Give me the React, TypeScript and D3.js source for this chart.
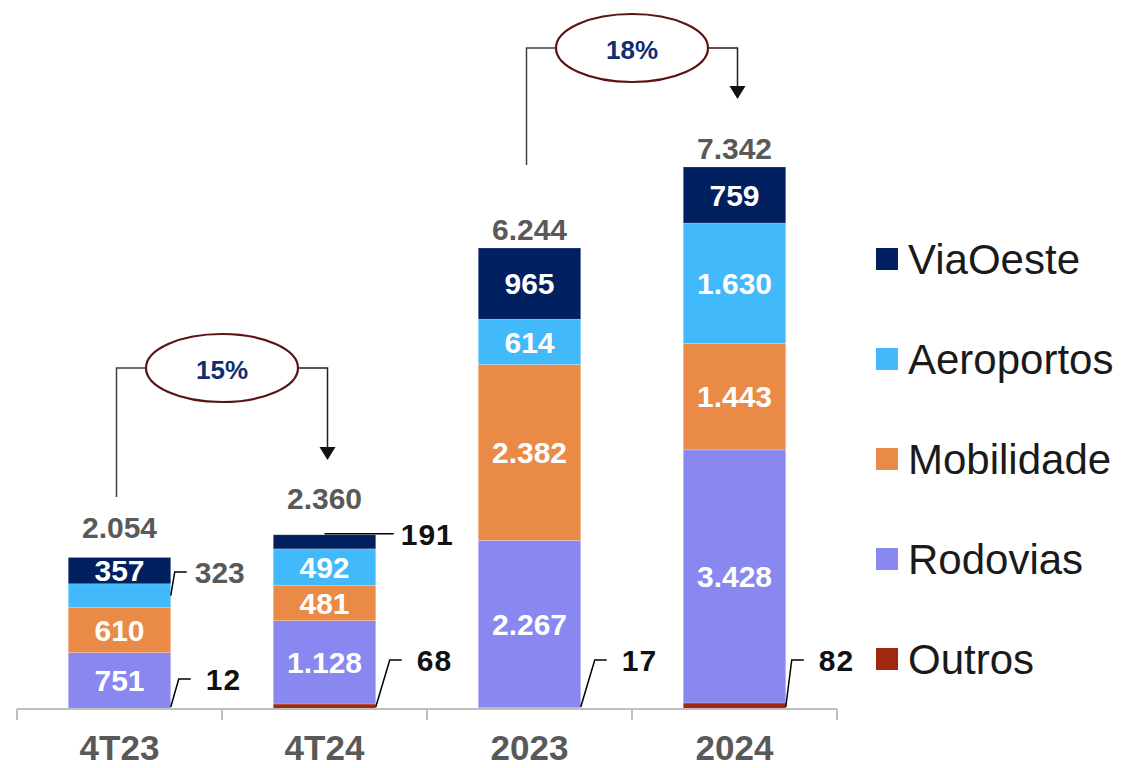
import React from 'react';
import * as d3 from 'd3';

const categories = ['4T23', '4T24', '2023', '2024'];
const seriesKeys = ['Outros', 'Rodovias', 'Mobilidade', 'Aeroportos', 'ViaOeste'];
const outros = [12, 68, 17, 82];
const rodovias = [751, 1128, 2267, 3428];
const mobilidade = [610, 481, 2382, 1443];
const aeroportos = [323, 492, 614, 1630];
const viaOeste = [357, 191, 965, 759];
const totals = [2054, 2360, 6244, 7342];
const growthLabels = ['15%', '18%'];
const growthPairs: [string, string][] = [['4T23', '4T24'], ['2023', '2024']];

const colors: Record<string, string> = {
  ViaOeste: '#002060',
  Aeroportos: '#42B9FA',
  Mobilidade: '#E98A46',
  Rodovias: '#8988F1',
  Outros: '#A02811',
};
const legendOrder = ['ViaOeste', 'Aeroportos', 'Mobilidade', 'Rodovias', 'Outros'];

// labels placed outside the bars with a leader line
const outside: { cat: string; key: string; labelY: number; kind: 'elbow' | 'flat'; color: string }[] = [
  { cat: '4T23', key: 'Outros', labelY: 679, kind: 'elbow', color: '#111' },
  { cat: '4T23', key: 'Aeroportos', labelY: 572, kind: 'elbow', color: '#595959' },
  { cat: '4T24', key: 'Outros', labelY: 660, kind: 'elbow', color: '#111' },
  { cat: '4T24', key: 'ViaOeste', labelY: 534, kind: 'flat', color: '#111' },
  { cat: '2023', key: 'Outros', labelY: 660, kind: 'elbow', color: '#111' },
  { cat: '2024', key: 'Outros', labelY: 660, kind: 'elbow', color: '#111' },
];
const totalOffsets = [30, 37, 19, 19];
const annot = [
  { cy: 368, leftBottom: 497, arrowTip: 460 },
  { cy: 48, leftBottom: 165, arrowTip: 99 },
];

const locale = d3.formatLocale({ decimal: ',', thousands: '.', grouping: [3], currency: ['R$', ''] });
const fmt = locale.format(',d');

const FONT = '"Liberation Sans", Arial, sans-serif';

export default function App() {
  const width = 1121;
  const height = 768;
  const baseY = 709;
  const x = d3.scaleBand<string>().domain(categories).range([17, 837]).paddingInner(0.5).paddingOuter(0.25);
  const y = d3.scaleLinear().domain([0, d3.max(totals) as number]).range([baseY, 167]);

  const rows = categories.map((c, i) => ({
    cat: c,
    Outros: outros[i],
    Rodovias: rodovias[i],
    Mobilidade: mobilidade[i],
    Aeroportos: aeroportos[i],
    ViaOeste: viaOeste[i],
  }));
  const stacked = d3.stack<any>().keys(seriesKeys)(rows);
  const bw = x.bandwidth();
  const step = x.step();
  const isOutside = (cat: string, key: string) => outside.some((o) => o.cat === cat && o.key === key);

  const tickXs = d3.range(categories.length + 1).map((i) => 17 + i * step);

  return (
    <svg width={width} height={height} style={{ position: 'absolute', left: 0, top: 0, background: '#fff' }}>
      {/* bars */}
      {stacked.map((layer) => (
        <g key={layer.key}>
          {layer.map((d, i) => (
            <rect
              key={i}
              x={x(categories[i])}
              y={y(d[1])}
              width={bw}
              height={Math.max(0, y(d[0]) - y(d[1]))}
              fill={colors[layer.key]}
              stroke="#ffffff"
              strokeOpacity={0.35}
              strokeWidth={0.6}
            />
          ))}
        </g>
      ))}
      {/* inside labels */}
      {stacked.map((layer) =>
        layer.map((d, i) => {
          const cat = categories[i];
          if (isOutside(cat, layer.key)) return null;
          return (
            <text
              key={layer.key + i}
              x={(x(cat) as number) + bw / 2}
              y={(y(d[0]) + y(d[1])) / 2}
              dy="0.36em"
              textAnchor="middle"
              fill="#fff"
              fontFamily={FONT}
              fontWeight="bold"
              fontSize={30}
            >
              {fmt(d[1] - d[0])}
            </text>
          );
        })
      )}
      {/* outside labels with leaders */}
      {outside.map((o, j) => {
        const i = categories.indexOf(o.cat);
        const layer = stacked.find((l) => l.key === o.key)!;
        const d = layer[i];
        const x0 = x(o.cat) as number;
        const right = x0 + bw;
        let path: string;
        let tx: number;
        if (o.kind === 'flat') {
          const ly = y(d[1]) - 1;
          path = `M${x0 + bw / 2},${ly}H${right + 18}`;
          tx = right + 25;
        } else {
          const sy = o.key === 'Outros' ? baseY - 2 : (y(d[0]) + y(d[1])) / 2;
          const ex = o.key === 'Outros' ? (o.cat === '2024' ? 6 : o.cat === '4T23' ? 8 : 14) : 4;
          path = `M${right},${sy}L${right + ex},${o.labelY}H${right + ex + 12}`;
          tx = right + ex + (o.key === 'Outros' ? 27 : 20);
        }
        return (
          <g key={'o' + j}>
            <path d={path} fill="none" stroke="#000" strokeWidth={1.5} />
            <text
              x={tx}
              y={o.labelY}
              dy="0.36em"
              fill={o.color}
              fontFamily={FONT}
              fontWeight="bold"
              fontSize={30}
              letterSpacing={o.color === '#111' ? 1 : 0}
            >
              {fmt(d[1] - d[0])}
            </text>
          </g>
        );
      })}
      {/* totals */}
      {categories.map((c, i) => (
        <text
          key={'t' + c}
          x={(x(c) as number) + bw / 2}
          y={y(totals[i]) - totalOffsets[i]}
          dy="0.36em"
          textAnchor="middle"
          fill="#595959"
          fontFamily={FONT}
          fontWeight="bold"
          fontSize={30}
        >
          {fmt(totals[i])}
        </text>
      ))}
      {/* axis */}
      <line x1={17} x2={837} y1={baseY} y2={baseY} stroke="#BFBFBF" strokeWidth={2} />
      {tickXs.map((tx, i) => (
        <line key={'tk' + i} x1={tx} x2={tx} y1={baseY} y2={baseY + 11} stroke="#BFBFBF" strokeWidth={2} />
      ))}
      {categories.map((c) => (
        <text
          key={'c' + c}
          x={(x(c) as number) + bw / 2}
          y={747}
          dy="0.36em"
          textAnchor="middle"
          fill="#595959"
          fontFamily={FONT}
          fontWeight="bold"
          fontSize={35}
        >
          {c}
        </text>
      ))}
      {/* growth annotations */}
      {growthPairs.map(([a, b], k) => {
        const xa = (x(a) as number) + bw / 2 - 3;
        const xb = (x(b) as number) + bw / 2 + 3;
        const cx = (xa + xb) / 2;
        const { cy, leftBottom, arrowTip } = annot[k];
        const rx = 76;
        const ry = 34;
        return (
          <g key={'g' + k}>
            <path d={`M${xa},${leftBottom}V${cy}H${cx - rx}`} fill="none" stroke="#404040" strokeWidth={1.5} />
            <path d={`M${cx + rx},${cy}H${xb}V${arrowTip - 12}`} fill="none" stroke="#202020" strokeWidth={1.5} />
            <path d={`M${xb - 8},${arrowTip - 13}L${xb + 8},${arrowTip - 13}L${xb},${arrowTip}Z`} fill="#111" />
            <ellipse cx={cx} cy={cy} rx={rx} ry={ry} fill="#fff" stroke="#5A1414" strokeWidth={2.2} />
            <text
              x={cx}
              y={cy + 2}
              dy="0.36em"
              textAnchor="middle"
              fill="#112E6E"
              fontFamily={FONT}
              fontWeight="bold"
              fontSize={26}
            >
              {growthLabels[k]}
            </text>
          </g>
        );
      })}
      {/* legend */}
      {legendOrder.map((k, i) => (
        <g key={'l' + k} transform={`translate(876,${259 + i * 100})`}>
          <rect x={0} y={-11} width={22} height={22} fill={colors[k]} />
          <text x={32} y={0} dy="0.36em" fill="#1a1a1a" fontFamily={FONT} fontSize={42}>
            {k}
          </text>
        </g>
      ))}
    </svg>
  );
}
